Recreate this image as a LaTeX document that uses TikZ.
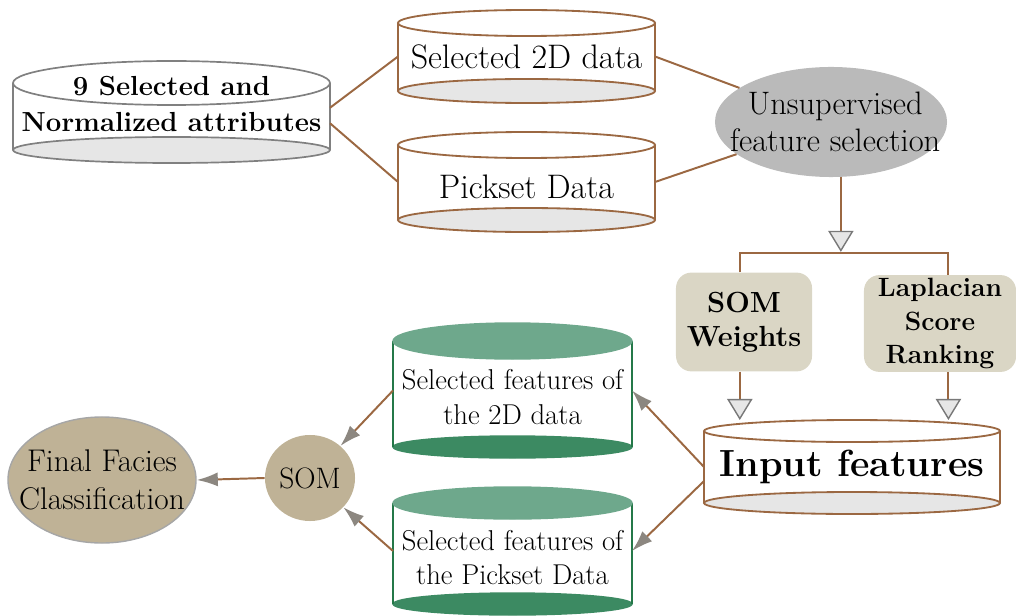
\documentclass[tikz,border=0pt]{standalone}
\usetikzlibrary{arrows.meta,shapes.geometric,calc}
\definecolor{brn}{RGB}{155,104,66}
\definecolor{ltgray}{RGB}{230,230,230}
\definecolor{midgray}{RGB}{128,128,128}
\definecolor{ufill}{RGB}{186,186,186}
\definecolor{boxfill}{RGB}{218,214,197}
\definecolor{tanfill}{RGB}{191,178,150}
\definecolor{gnline}{RGB}{36,120,72}
\definecolor{gntop}{RGB}{110,168,140}
\definecolor{gnbot}{RGB}{60,138,98}
\definecolor{tipgray}{RGB}{140,135,128}
\definecolor{trigray}{RGB}{120,120,120}
\newcommand\cyl[9]{%
  \fill[white] (#2,{#4+#6}) rectangle (#3,{#5-#7});
  \path[#8 bot] ({(#2+#3)/2},{#5-#7}) ellipse [x radius={(#3-#2)*0.0125cm}, y radius={#7*0.025cm}];
  \draw[#8 line] (#2,{#4+#6}) -- (#2,{#5-#7}) (#3,{#4+#6}) -- (#3,{#5-#7});
  \path[#8 top] ({(#2+#3)/2},{#4+#6}) ellipse [x radius={(#3-#2)*0.0125cm}, y radius={#6*0.025cm}];
  \node[cylbox, minimum width={(#3-#2)*0.025cm}, minimum height={(#5-#4)*0.025cm},
        label={[#8 text]center:{#9}}] (#1) at ({(#2+#3)/2},{(#4+#5)/2}) {};
}
\tikzset{
  cylbox/.style={shape=rectangle, inner sep=0pt, outer sep=0pt},
  cyltext/.style={align=center, text=black, inner sep=0pt},
  gy line/.style={draw=midgray, line width=1.2pt},
  gy top/.style={gy line, fill=white},
  gy bot/.style={gy line, fill=ltgray},
  gy text/.style={cyltext, yshift=5.7pt, font=\fontsize{19.6}{25.6}\selectfont\bfseries},
  br line/.style={draw=brn, line width=1.3pt},
  br top/.style={br line, fill=white},
  br bot/.style={br line, fill=ltgray},
  br text/.style={cyltext, font=\fontsize{24.2}{28}\selectfont},
  brc line/.style={br line},
  brc top/.style={br top},
  brc bot/.style={br bot},
  brc text/.style={br text, yshift=-3.5pt},
  in line/.style={br line},
  in top/.style={br top},
  in bot/.style={br bot},
  in text/.style={cyltext, font=\fontsize{26.9}{30}\selectfont\bfseries},
  gn line/.style={draw=gnline, line width=1.3pt},
  gn top/.style={draw=gntop, line width=1pt, fill=gntop},
  gn bot/.style={draw=gnbot, line width=1pt, fill=gnbot},
  gn text/.style={cyltext, yshift=-4.5pt, font=\fontsize{20.4}{24.5}\selectfont},
  conn/.style={draw=brn, line width=1.4pt},
  tri/.style={-{Triangle[width=18pt,length=15pt,color=trigray,fill=ltgray,line width=1pt]}},
  garrow/.style={-{Latex[length=15pt,width=10pt,color=tipgray]}},
  roundbox/.style={shape=rectangle, rounded corners=11pt, fill=boxfill, inner sep=0pt, align=center},
  utext/.style={align=center, font=\fontsize{23.1}{26.5}\selectfont},
}
\begin{document}
\begin{tikzpicture}[x=0.025cm,y=-0.025cm]
\useasboundingbox (0,0) rectangle (1016,616);
% cylinders
\cyl{A}{13}{330}{61}{163}{22}{13}{gy}{9 Selected and\\Normalized attributes}
\cyl{B}{398}{655}{10}{103}{13}{12}{br}{Selected 2D data}
\cyl{C}{398}{655}{132}{232}{13}{12}{brc}{Pickset Data}
\cyl{D}{704}{1000}{420}{514}{11}{11}{in}{Input features}
\cyl{E}{393}{632}{323}{458}{18}{11}{gn}{Selected features of\\the 2D data}
\cyl{F}{393}{632}{487}{615}{16}{11}{gn}{Selected features of\\the Pickset Data}
% ellipses and boxes
\node[ellipse, fill=ufill, inner sep=0pt, minimum width=5.8cm, minimum height=2.75cm,
      label={[utext, xshift=3pt]center:{Unsupervised\\feature selection}}] (U) at (831,122) {};
\node[roundbox, minimum width=3.4cm, minimum height=2.47cm, font=\fontsize{20.7}{24.5}\selectfont\bfseries] (SW) at (744,322) {SOM\\Weights};
\node[roundbox, minimum width=3.8cm, minimum height=2.42cm, font=\fontsize{18.8}{23.5}\selectfont\bfseries] (LS) at (940,323.5) {Laplacian\\Score\\Ranking};
\node[ellipse, fill=tanfill, inner sep=0pt, minimum width=2.25cm, minimum height=2.15cm,
      label={[font=\fontsize{21}{24}\selectfont]center:SOM}] (SOM) at (310,478) {};
\node[ellipse, fill=tanfill, draw=midgray!70, line width=1pt, inner sep=0pt, minimum width=4.7cm, minimum height=3.15cm,
      label={[align=center, font=\fontsize{22.3}{27}\selectfont]center:{Final Facies\\Classification}}] (Final) at (102,480) {};
% connectors
\draw[conn] ([yshift=3pt]A.east) -- (B.west);
\draw[conn] ([yshift=-8pt]A.east) -- (C.west);
\draw[conn] (B.east) -- (U);
\draw[conn] (C.east) -- (U);
\path ([xshift=7pt]U.south) ++(0,76) coordinate (tee);
\draw[conn] ([xshift=-3pt]SW.north) |- (tee) -| ([xshift=6pt]LS.north);
\draw[conn, tri] ([xshift=7pt]U.south) -- ([yshift=1pt]tee);
\draw[conn, tri] ([xshift=-3pt]SW.south) -- ([xshift=-3pt]SW.south |- D.north);
\draw[conn, tri] ([xshift=6pt]LS.south) -- ([xshift=6pt]LS.south |- D.north);
\draw[conn, garrow] (D.west) -- (E.east);
\draw[conn, garrow] ([yshift=-10pt]D.west) -- (F.east);
\draw[conn, garrow] (E.west) -- (SOM);
\draw[conn, garrow] (F.west) -- (SOM);
\draw[conn, garrow] (SOM.west) -- (Final.east);
\end{tikzpicture}
\end{document}
